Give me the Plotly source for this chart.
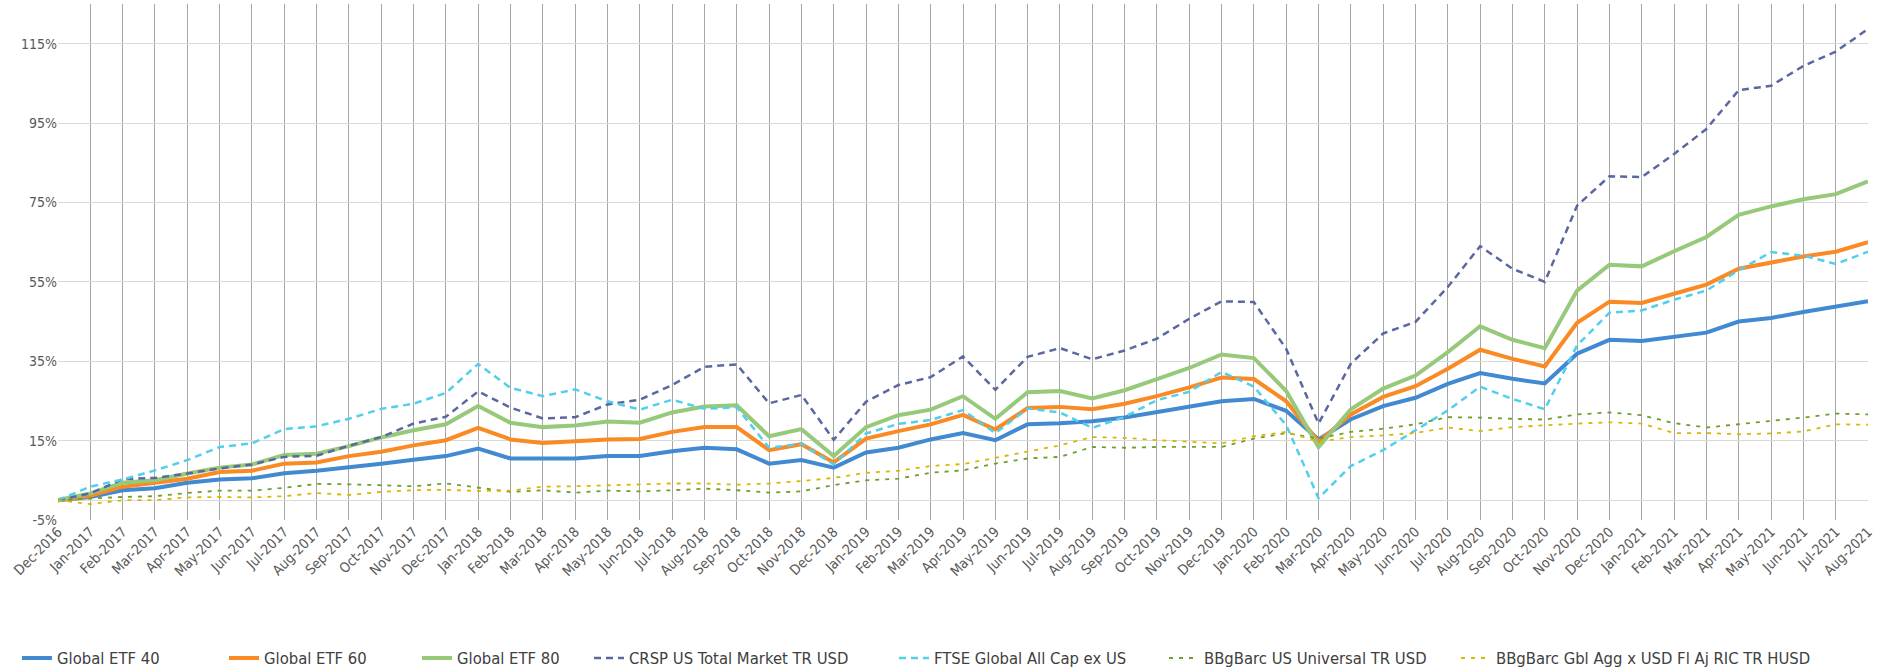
import plotly.graph_objects as go

months = ["Dec-2016","Jan-2017","Feb-2017","Mar-2017","Apr-2017","May-2017","Jun-2017","Jul-2017","Aug-2017","Sep-2017","Oct-2017","Nov-2017","Dec-2017",
          "Jan-2018","Feb-2018","Mar-2018","Apr-2018","May-2018","Jun-2018","Jul-2018","Aug-2018","Sep-2018","Oct-2018","Nov-2018","Dec-2018",
          "Jan-2019","Feb-2019","Mar-2019","Apr-2019","May-2019","Jun-2019","Jul-2019","Aug-2019","Sep-2019","Oct-2019","Nov-2019","Dec-2019",
          "Jan-2020","Feb-2020","Mar-2020","Apr-2020","May-2020","Jun-2020","Jul-2020","Aug-2020","Sep-2020","Oct-2020","Nov-2020","Dec-2020",
          "Jan-2021","Feb-2021","Mar-2021","Apr-2021","May-2021","Jun-2021","Jul-2021","Aug-2021"]

global_etf_40 = [0, 0.8, 2.5, 3.0, 4.4, 5.2, 5.5, 6.8, 7.4, 8.2, 9.2, 10.2, 11.1, 13.0,
                 10.5, 10.5, 10.5, 11.1, 11.1, 12.3, 13.2, 12.8, 9.2, 10.1, 8.2, 12.0, 13.2, 15.3, 16.9, 15.1,
                 19.1, 19.4, 19.9, 20.8, 22.2, 23.5, 24.9, 25.5, 22.5, 15.3, 20.4, 23.7, 25.8, 29.3, 32.0,
                 30.6, 29.4, 36.9, 40.4, 40.1, 41.1, 42.2, 45.0, 45.9, 47.4, 48.8, 50.1]
global_etf_60 = [0, 1.1, 3.4, 4.4, 5.4, 7.1, 7.4, 9.2, 9.5, 11.1, 12.2, 13.8, 15.1, 18.2,
                 15.3, 14.4, 14.8, 15.3, 15.4, 17.2, 18.4, 18.4, 12.6, 14.1, 9.5, 15.5, 17.4, 19.1, 21.5, 17.8,
                 23.2, 23.5, 22.9, 24.3, 26.2, 28.4, 30.9, 30.5, 24.9, 14.7, 21.6, 26.0, 28.7, 33.1, 37.9,
                 35.6, 33.7, 44.7, 50.0, 49.7, 52.0, 54.3, 58.3, 59.9, 61.4, 62.6, 65.0]
global_etf_80 = [0, 1.7, 4.4, 5.0, 6.7, 8.2, 9.0, 11.4, 11.7, 13.6, 15.8, 17.6, 19.1, 23.7,
                 19.5, 18.4, 18.8, 19.8, 19.5, 22.1, 23.6, 23.9, 16.1, 17.9, 11.1, 18.4, 21.4, 22.8, 26.2, 20.5,
                 27.2, 27.5, 25.6, 27.7, 30.5, 33.3, 36.7, 35.8, 27.5, 13.4, 22.9, 28.1, 31.4, 37.3, 43.8,
                 40.4, 38.3, 52.8, 59.3, 58.9, 62.7, 66.3, 71.9, 74.0, 75.8, 77.1, 80.3]
crsp_us_total = [0, 1.7, 5.3, 5.6, 6.7, 8.0, 9.0, 10.9, 11.2, 13.7, 15.9, 19.3, 21.0, 27.4,
                 23.3, 20.6, 20.9, 24.1, 25.3, 29.0, 33.6, 34.2, 24.4, 26.5, 15.2, 24.8, 29.0, 31.0, 36.2, 27.8,
                 36.1, 38.3, 35.5, 37.7, 40.7, 45.7, 50.1, 49.9, 38.1, 19.3, 34.4, 42.0, 44.9, 53.7, 64.0,
                 58.3, 55.0, 74.2, 81.6, 81.4, 87.2, 93.5, 103.3, 104.4, 109.4, 113.0, 118.7]
ftse_global_ex_us = [0, 3.4, 5.2, 7.5, 10.1, 13.4, 14.3, 17.9, 18.6, 20.5, 23.0, 24.3, 27.0, 34.3,
                     28.3, 26.2, 27.9, 24.9, 22.8, 25.3, 23.0, 23.4, 13.2, 14.2, 9.0, 16.8, 19.2, 20.2, 22.7, 16.9,
                     23.1, 22.1, 18.2, 21.0, 25.2, 27.3, 32.3, 28.6, 18.9, 0.5, 8.6, 12.6, 17.6, 22.6, 28.6,
                     25.5, 22.9, 39.0, 47.2, 47.8, 50.5, 52.8, 57.9, 62.5, 61.6, 59.5, 62.6]
bbg_us_universal = [0, 0.4, 0.8, 1.0, 1.8, 2.4, 2.4, 3.1, 4.1, 4.0, 3.7, 3.5, 4.2, 3.1,
                    2.1, 2.5, 1.9, 2.4, 2.2, 2.5, 2.9, 2.5, 1.9, 2.2, 3.8, 5.0, 5.4, 6.9, 7.5, 9.2,
                    10.5, 10.9, 13.4, 13.2, 13.4, 13.4, 13.4, 15.5, 16.9, 15.5, 17.2, 18.0, 19.1, 20.9, 20.8,
                    20.5, 20.3, 21.6, 22.1, 21.4, 19.4, 18.3, 19.1, 19.9, 20.8, 21.8, 21.6]
bbg_gbl_agg_x_usd = [0, -1.0, 0, 0, 0.7, 0.8, 0.7, 1.0, 1.8, 1.3, 2.1, 2.5, 2.6, 2.3,
                     2.4, 3.4, 3.5, 3.7, 4.0, 4.2, 4.2, 3.9, 4.2, 4.8, 5.6, 6.9, 7.4, 8.6, 9.1, 10.7,
                     12.3, 13.8, 15.9, 15.7, 15.1, 14.7, 14.3, 16.1, 17.2, 14.7, 15.9, 16.3, 16.9, 18.3, 17.4,
                     18.4, 18.9, 19.3, 19.6, 19.3, 16.9, 16.9, 16.6, 16.8, 17.3, 19.1, 19.0]

y_ticks = [-5, 15, 35, 55, 75, 95, 115]
y_tick_labels = [f"{v}%" for v in y_ticks]

series = [
    ("Global ETF 40", global_etf_40, "#418AD2", 4, "solid"),
    ("Global ETF 60", global_etf_60, "#F98A24", 4, "solid"),
    ("Global ETF 80", global_etf_80, "#97C97B", 4, "solid"),
    ("CRSP US Total Market TR USD", crsp_us_total, "#5A67A0", 2.5, "7px,5px"),
    ("FTSE Global All Cap ex US", ftse_global_ex_us, "#52CFEA", 2.5, "7px,5px"),
    ("BBgBarc US Universal TR USD", bbg_us_universal, "#6F9E2D", 1.8, "4px,6px"),
    ("BBgBarc Gbl Agg x USD Fl Aj RIC TR HUSD", bbg_gbl_agg_x_usd, "#D9B800", 1.8, "4px,6px"),
]

# legend entry left edges (pixels) in the 1889-wide canvas
legend_px = [17, 224, 417, 589, 894, 1164, 1456]
plot_left, plot_right = 58, 1868
plot_w = plot_right - plot_left

font_family = "DejaVu Sans Condensed, DejaVu Sans, sans-serif"

fig = go.Figure()
layout_legends = {}
for i, (name, vals, color, width, dash) in enumerate(series):
    key = "legend" if i == 0 else f"legend{i + 1}"
    fig.add_trace(go.Scatter(x=months, y=vals, name=name, mode="lines", legend=key,
                             line=dict(color=color, width=width, dash=dash)))
    layout_legends[key] = dict(
        orientation="h", x=(legend_px[i] - plot_left) / plot_w, xanchor="left",
        y=-0.268, yanchor="middle", bgcolor="rgba(0,0,0,0)",
        font=dict(family=font_family, size=16.5, color="#404040"), itemwidth=30,
    )

fig.update_layout(
    width=1889, height=670,
    margin=dict(l=plot_left, r=1889 - plot_right, t=4, b=150, autoexpand=False),
    paper_bgcolor="white", plot_bgcolor="white",
    font=dict(family=font_family, size=14, color="#595959"),
    showlegend=True,
    xaxis=dict(type="category", range=[0, len(months) - 1], tickangle=-45, automargin=False,
               showgrid=True, gridcolor="#A6A6A6", gridwidth=1.3,
               showline=False, zeroline=False, ticks="", tickfont=dict(size=14, color="#595959")),
    yaxis=dict(range=[-5, 125], tickmode="array", tickvals=y_ticks, ticktext=y_tick_labels, automargin=False,
               showgrid=True, gridcolor="#D9D9D9", gridwidth=1.3,
               zeroline=True, zerolinecolor="#D9D9D9", zerolinewidth=1.3,
               showline=False, ticks="", tickfont=dict(size=14, color="#595959")),
    **layout_legends,
)

fig.write_html("out.html", config={"displayModeBar": False},
               post_script="document.body.style.margin='0';document.body.style.overflow='hidden';")
